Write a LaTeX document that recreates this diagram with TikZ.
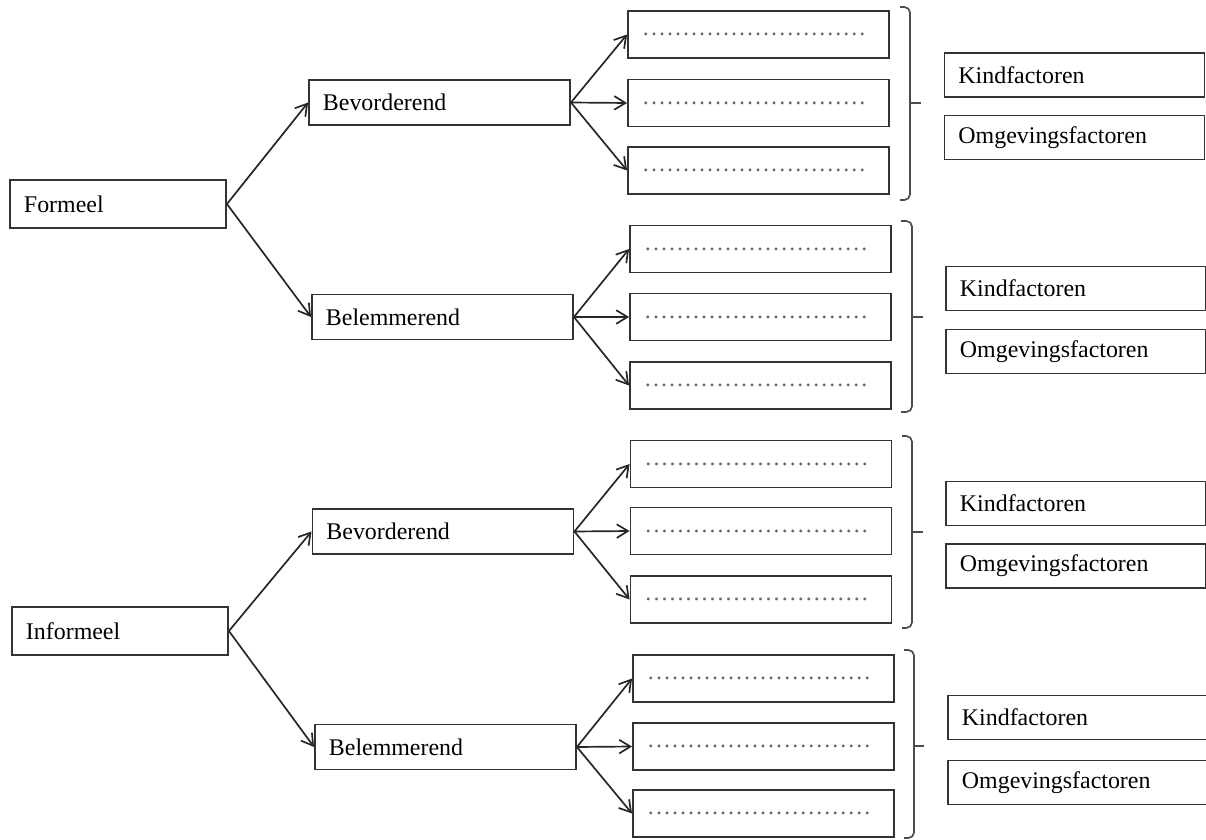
\documentclass[tikz,border=0pt]{standalone}
\usepackage{fontspec}
\setmainfont{Liberation Serif}
\usetikzlibrary{arrows.meta}

% a row of grey dots to fill in
\newcommand{\dotrow}{\mbox{\color{black!60}\xleaders\hbox to 5.7pt{\hss.\hss}\hskip 159.6pt}}

\begin{document}
\begin{tikzpicture}[x=0.025cm,y=-0.025cm,
        every node/.style={font=\fontsize{17}{20}\selectfont},
        box/.style={draw=black!80,rectangle,line width=1.3pt,inner xsep=0.35cm,inner ysep=0pt,align=left},
        root/.style={box,text width=4.7cm,minimum height=1.2cm},
        mid/.style={box,text width=5.825cm,minimum height=1.125cm},
        blank/.style={box,text width=5.825cm,minimum height=1.175cm},
        factor/.style={box,text width=5.8cm,minimum height=1.1cm},
        arr/.style={draw=black!85,line width=1.2pt,-{Straight Barb[length=2.8mm,width=3.4mm]}},
        brace/.style={draw=black!70,line width=1.2pt,rounded corners=4pt}
      ]
      \useasboundingbox (0,0) rectangle (1206,840);

      % formeel
      \node[root] (f) at (118,204) {Formeel};
      \node[mid] (b1) at (439.5,102.5) {Bevorderend};
      \node[blank] (d11) at (758.5,34.5) {\dotrow};
      \node[blank] (d12) at (758.5,103) {\dotrow};
      \node[blank] (d13) at (758.5,170.5) {\dotrow};
      \node[factor] (k1) at (1074.5,75) {Kindfactoren};
      \node[factor] (o1) at (1074.5,137.5) {Omgevingsfactoren};
      \draw[brace] (900,7) -- (910,7) -- (910,200) -- (900,200);
      \draw[brace] (910,103) -- (921,103);

      \node[mid] (b2) at (442.5,317) {Belemmerend};
      \node[blank] (d21) at (760.5,249) {\dotrow};
      \node[blank] (d22) at (760.5,317) {\dotrow};
      \node[blank] (d23) at (760.5,385.5) {\dotrow};
      \node[factor] (k2) at (1076,288.5) {Kindfactoren};
      \node[factor] (o2) at (1076,351.5) {Omgevingsfactoren};
      \draw[brace] (901,221) -- (912,221) -- (912,412) -- (901,412);
      \draw[brace] (912,317) -- (923,317);

      % informeel
      \node[root] (i) at (120,631) {Informeel};
      \node[mid] (b3) at (443,531.5) {Bevorderend};
      \node[blank] (d31) at (761,464) {\dotrow};
      \node[blank] (d32) at (761,531) {\dotrow};
      \node[blank] (d33) at (761,599.5) {\dotrow};
      \node[factor] (k3) at (1076,503.5) {Kindfactoren};
      \node[factor] (o3) at (1076,566) {Omgevingsfactoren};
      \draw[brace] (902,436) -- (912,436) -- (912,628) -- (902,628);
      \draw[brace] (912,532) -- (923,532);

      \node[mid] (b4) at (445.5,747) {Belemmerend};
      \node[blank] (d41) at (763.5,678.5) {\dotrow};
      \node[blank] (d42) at (763.5,746.5) {\dotrow};
      \node[blank] (d43) at (763.5,813.5) {\dotrow};
      \node[factor] (k4) at (1078,717.5) {Kindfactoren};
      \node[factor] (o4) at (1078,782.5) {Omgevingsfactoren};
      \draw[brace] (904,650) -- (914,650) -- (914,838) -- (904,838);
      \draw[brace] (914,746) -- (924,746);

      % arrows
      \draw[arr] (f.east) -- (b1.west);
      \draw[arr] (f.east) -- (b2.west);
      \draw[arr] (i.east) -- (b3.west);
      \draw[arr] (i.east) -- (b4.west);
      \foreach \g in {1,...,4}
        \foreach \n in {1,2,3}
          \draw[arr] (b\g.east) -- (d\g\n.west);
    \end{tikzpicture}
\end{document}
